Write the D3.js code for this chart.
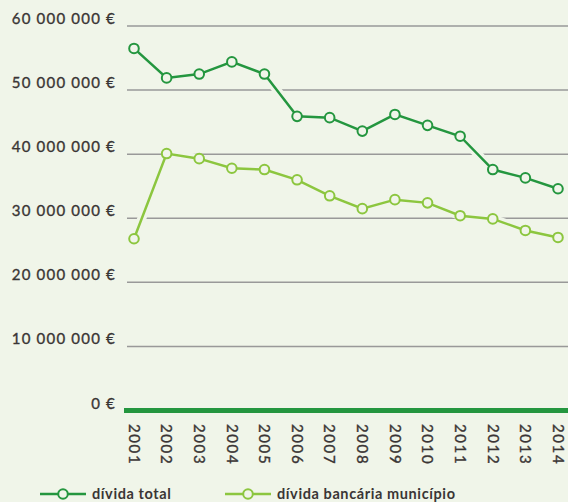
<!DOCTYPE html>
<html>
<head>
<meta charset="utf-8">
<script src="https://cdn.jsdelivr.net/npm/d3@7"></script>
<style>
  body { margin: 0; background: #f0f5e9; }
  text { font-family: Lato, sans-serif; fill: #3a3535; }
  .tick { stroke: #3a3535; stroke-width: 0.35; }
</style>
</head>
<body>
<script>
const width = 568;
const height = 502;

const bg = "#f0f5e9";
const darkGreen = "#24963f";
const lightGreen = "#8cc63f";

// données
const years = ["2001", "2002", "2003", "2004", "2005", "2006", "2007", "2008", "2009", "2010", "2011", "2012", "2013", "2014"];
const dividaTotal = [56.5, 51.9, 52.5, 54.4, 52.5, 45.9, 45.7, 43.6, 46.2, 44.5, 42.8, 37.6, 36.3, 34.6];
const dividaBancaria = [26.8, 40.1, 39.3, 37.8, 37.6, 36.0, 33.5, 31.5, 32.9, 32.4, 30.4, 29.9, 28.1, 27.0];
const yTicks = [0, 10, 20, 30, 40, 50, 60];
const legendLabels = ["dívida total", "dívida bancária município"];

const svg = d3
    .select("body")
    .append("svg")
    .attr("width", width)
    .attr("height", height);

const x = d3
    .scalePoint()
    .domain(years)
    .range([134, 558]);

const y = d3
    .scaleLinear()
    .domain([0, 60])
    .range([410.5, 26]);

const fmt = v => v === 0 ? "0 €" : (v + "000000").replace(/\B(?=(\d{3})+(?!\d))/g, " ") + " €";

// grille
const grid = svg.append("g");
grid.selectAll("line")
    .data(yTicks.filter(d => d > 0))
    .join("line")
    .attr("x1", 127)
    .attr("x2", width)
    .attr("y1", d => y(d))
    .attr("y2", d => y(d))
    .attr("stroke", "#999")
    .attr("stroke-width", 1.5);

grid.selectAll("text")
    .data(yTicks)
    .join("text")
    .attr("class", "tick")
    .attr("x", 116)
    .attr("y", d => y(d) - 2)
    .attr("text-anchor", "end")
    .attr("font-size", 15)
    .attr("letter-spacing", 1.2)
    .text(fmt);

// axe x
svg.append("line")
    .attr("x1", 124)
    .attr("x2", width)
    .attr("y1", y(0))
    .attr("y2", y(0))
    .attr("stroke", darkGreen)
    .attr("stroke-width", 5);

svg.append("g")
    .selectAll("text")
    .data(years)
    .join("text")
    .attr("class", "tick")
    .attr("transform", d => `translate(${x(d)},424) rotate(90)`)
    .attr("dy", "0.35em")
    .attr("font-size", 15)
    .attr("letter-spacing", 1.6)
    .text(d => d);

// séries
const line = d3.line()
    .x((d, i) => x(years[i]))
    .y(d => y(d));

function drawSeries(values, color) {
    const g = svg.append("g");
    g.append("path")
        .attr("d", line(values))
        .attr("fill", "none")
        .attr("stroke", bg)
        .attr("stroke-width", 9);
    g.append("path")
        .attr("d", line(values))
        .attr("fill", "none")
        .attr("stroke", color)
        .attr("stroke-width", 2.5);
    g.selectAll("circle")
        .data(values)
        .join("circle")
        .attr("cx", (d, i) => x(years[i]))
        .attr("cy", d => y(d))
        .attr("r", 4.8)
        .attr("fill", bg)
        .attr("stroke", color)
        .attr("stroke-width", 2);
}

drawSeries(dividaBancaria, lightGreen);
drawSeries(dividaTotal, darkGreen);

// légende
const legend = svg.append("g").attr("transform", "translate(0,494)");
const legendItems = [
    { label: legendLabels[0], color: darkGreen, x: 40 },
    { label: legendLabels[1], color: lightGreen, x: 225 }
];
legendItems.forEach(item => {
    const lg = legend.append("g").attr("transform", `translate(${item.x},0)`);
    lg.append("line")
        .attr("x1", 0)
        .attr("x2", 46)
        .attr("stroke", item.color)
        .attr("stroke-width", 2.5);
    lg.append("circle")
        .attr("cx", 23)
        .attr("r", 4.8)
        .attr("fill", bg)
        .attr("stroke", item.color)
        .attr("stroke-width", 2);
    lg.append("text")
        .attr("x", 52)
        .attr("dy", "0.35em")
        .attr("font-size", 14.5)
        .attr("font-weight", "bold")
        .attr("letter-spacing", 0.6)
        .text(item.label);
});
</script>
</body>
</html>
